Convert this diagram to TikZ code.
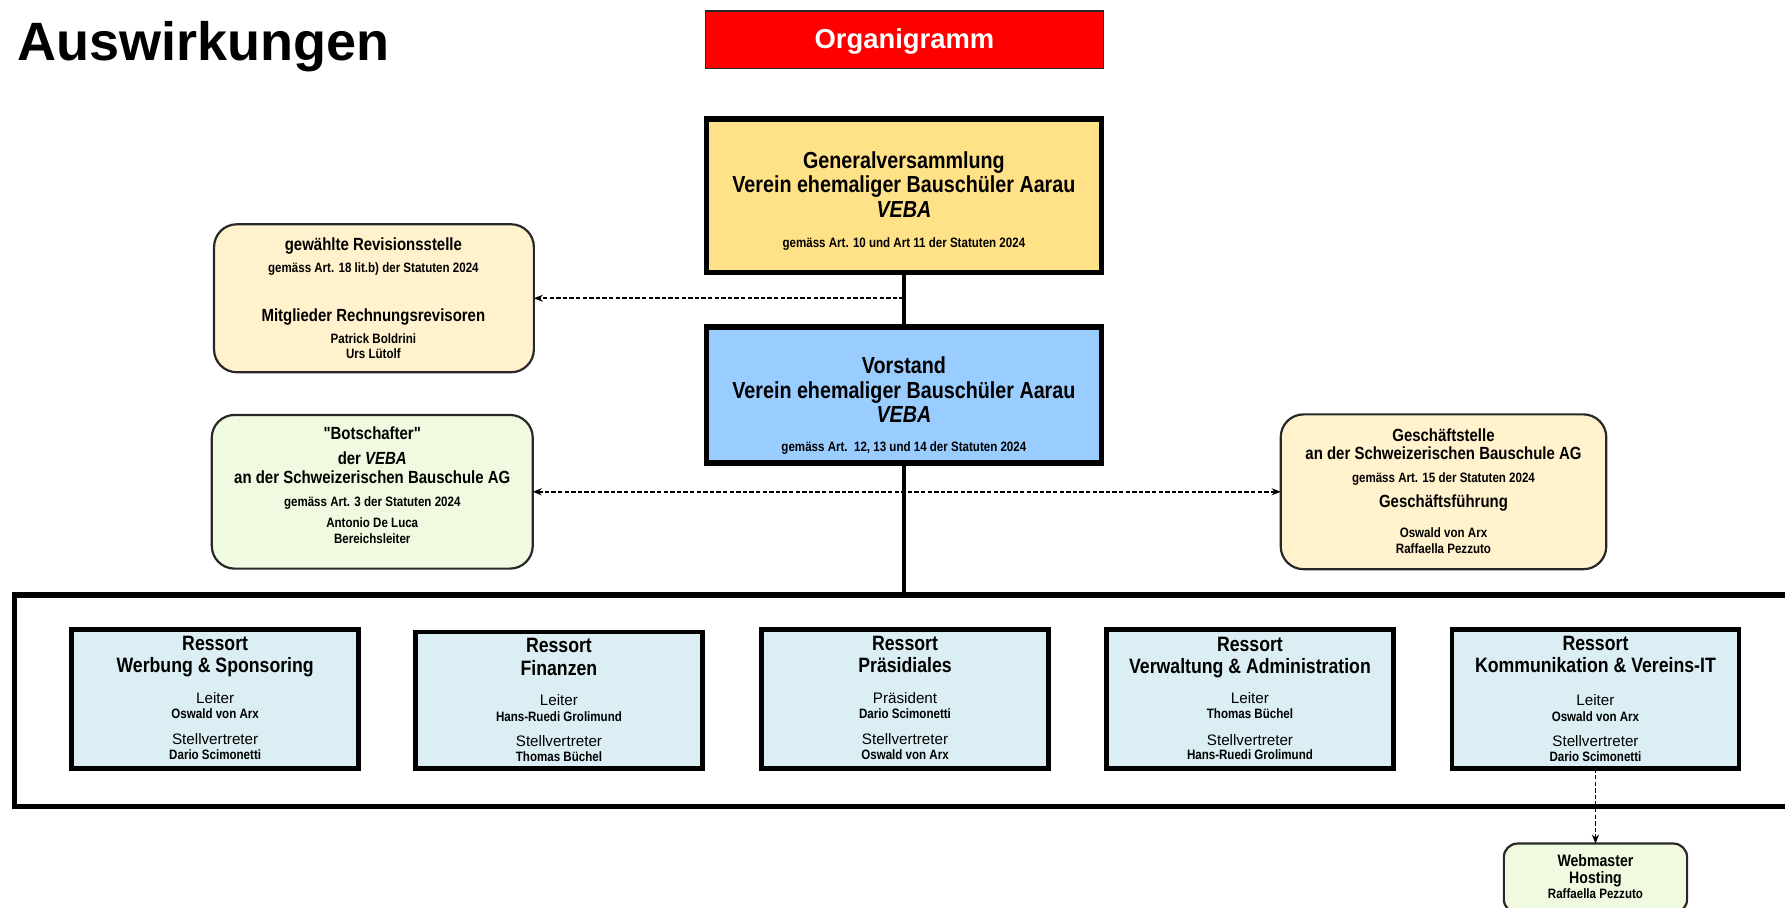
\documentclass[tikz,border=0pt]{standalone}
\usepackage{fontspec}
\setmainfont{Liberation Sans}
\newfontfamily\narrowfont{Liberation Sans}[FakeStretch=0.85]
\usetikzlibrary{arrows.meta}

\definecolor{orgred}{RGB}{255,0,0}
\definecolor{gvyellow}{RGB}{255,226,135}
\definecolor{vsblue}{RGB}{153,204,255}
\definecolor{paleyellow}{RGB}{255,242,204}
\definecolor{palegreen}{RGB}{240,250,224}
\definecolor{resblue}{RGB}{218,238,243}
\definecolor{edgegray}{RGB}{40,40,40}

\tikzset{
  txt/.style={anchor=base, inner sep=0pt, outer sep=0pt},
  ttl/.style={txt, font=\bfseries\fontsize{27}{30}\selectfont},
  orgtxt/.style={txt, text=white, font=\bfseries\fontsize{13.7}{15}\selectfont},
  big/.style={txt, font=\narrowfont\bfseries\fontsize{11.6}{13}\selectfont},
  small/.style={txt, font=\narrowfont\bfseries\fontsize{6.8}{8}\selectfont},
  mid/.style={txt, font=\narrowfont\bfseries\fontsize{8.8}{10}\selectfont},
  res/.style={txt, font=\narrowfont\bfseries\fontsize{10.4}{12}\selectfont},
  role/.style={txt, font=\fontsize{7.6}{9}\selectfont},
  web/.style={txt, font=\narrowfont\bfseries\fontsize{8.3}{10}\selectfont},
  orgbox/.style={draw=edgegray, fill=orgred, line width=0.85pt, inner sep=0pt, outer sep=0pt,
    minimum width=6.99cm, minimum height=1.01cm},
  mainbox/.style={draw=black, line width=0.1cm, inner sep=0pt, outer sep=0pt,
    minimum width=6.94cm},
  softbox/.style={draw=edgegray, line width=1.1pt, rounded corners=0.4cm, inner sep=0pt, outer sep=0pt},
  resbox/.style={draw=black, fill=resblue, line width=0.08cm, inner sep=0pt, outer sep=0pt,
    minimum width=5.04cm, minimum height=2.44cm},
  framebox/.style={draw=black, line width=0.1cm, inner sep=0pt, outer sep=0pt,
    minimum width=31.3cm, minimum height=3.72cm},
  solidline/.style={line width=1.7pt},
  dasharrow/.style={line width=0.8pt, dash pattern=on 2.2pt off 1.1pt,
    -{Stealth[length=4.5pt,width=3.5pt]}},
  dasharrows/.style={line width=0.8pt, dash pattern=on 2.2pt off 1.1pt,
    {Stealth[length=4.5pt,width=3.5pt]}-{Stealth[length=4.5pt,width=3.5pt]}}
}

\begin{document}
\begin{tikzpicture}[x=0.02cm, y=-0.02cm]
\useasboundingbox (0,0) rectangle (1568,797);
\clip (0,0) rectangle (1568,797);

% Title
\node[ttl, anchor=base west] (title) at (15,53) {Auswirkungen};

% Red header
\node[orgbox] (org) at (794.5,35) {};
\node[orgtxt] (orgt) at (794.5,43) {Organigramm};

% Frame round the Ressorts
\node[framebox] (frame) at (795,615.5) {};

% Generalversammlung
\node[mainbox, fill=gvyellow, minimum height=2.70cm] (gv) at (794,172) {};
\node[big] (gv1) at (794,148) {Generalversammlung};
\node[big] (gv2) at (794,169) {Verein ehemaliger Bauschüler Aarau};
\node[big] (gv3) at (794,191) {\itshape VEBA};
\node[small] (gv4) at (794,217) {gemäss Art. 10 und Art 11 der Statuten 2024};

% Vorstand
\node[mainbox, fill=vsblue, minimum height=2.38cm] (vor) at (794,347) {};
\node[big] (vor1) at (794,328) {Vorstand};
\node[big] (vor2) at (794,350) {Verein ehemaliger Bauschüler Aarau};
\node[big] (vor3) at (794,371) {\itshape VEBA};
\node[small] (vor4) at (794,397) {gemäss Art.\ \ 12, 13 und 14 der Statuten 2024};

% Revisionsstelle
\node[softbox, fill=paleyellow, minimum width=5.62cm, minimum height=2.60cm] (rev) at (328.5,262) {};
\node[mid] (rev1) at (328,220) {gewählte Revisionsstelle};
\node[small] (rev2) at (328,239) {gemäss Art. 18 lit.b) der Statuten 2024};
\node[mid] (rev3) at (328,282) {Mitglieder Rechnungsrevisoren};
\node[small] (rev4) at (328,302) {Patrick Boldrini};
\node[small] (rev5) at (328,315) {Urs Lütolf};

% Botschafter
\node[softbox, fill=palegreen, minimum width=5.64cm, minimum height=2.70cm] (bot) at (327,432) {};
\node[mid] (bot1) at (327,386) {\char34 Botschafter\char34};
\node[mid] (bot2) at (327,408) {der \textit{VEBA}};
\node[mid] (bot3) at (327,425) {an der Schweizerischen Bauschule AG};
\node[small] (bot4) at (327,445) {gemäss Art. 3 der Statuten 2024};
\node[small] (bot5) at (327,463) {Antonio De Luca};
\node[small] (bot6) at (327,477) {Bereichsleiter};

% Geschaeftsstelle
\node[softbox, fill=paleyellow, minimum width=5.72cm, minimum height=2.72cm] (gst) at (1268,432) {};
\node[mid] (gst1) at (1268,388) {Geschäftstelle};
\node[mid] (gst2) at (1268,404) {an der Schweizerischen Bauschule AG};
\node[small] (gst3) at (1268,424) {gemäss Art. 15 der Statuten 2024};
\node[mid] (gst4) at (1268,446) {Geschäftsführung};
\node[small] (gst5) at (1268,472) {Oswald von Arx};
\node[small] (gst6) at (1268,486) {Raffaella Pezzuto};

% Ressort Werbung & Sponsoring
\node[resbox] (res1) at (189,614) {};
\node[res] (res1a) at (189,571) {Ressort};
\node[res] (res1b) at (189,591) {Werbung \& Sponsoring};
\node[role] (res1c) at (189,618) {Leiter};
\node[small] (res1d) at (189,631) {Oswald von Arx};
\node[role] (res1e) at (189,654) {Stellvertreter};
\node[small] (res1f) at (189,667) {Dario Scimonetti};

% Ressort Finanzen
\node[resbox, minimum height=2.40cm] (res2) at (491,615) {};
\node[res] (res2a) at (491,573) {Ressort};
\node[res] (res2b) at (491,593) {Finanzen};
\node[role] (res2c) at (491,620) {Leiter};
\node[small] (res2d) at (491,634) {Hans-Ruedi Grolimund};
\node[role] (res2e) at (491,656) {Stellvertreter};
\node[small] (res2f) at (491,669) {Thomas Büchel};

% Ressort Praesidiales
\node[resbox] (res3) at (795,614) {};
\node[res] (res3a) at (795,571) {Ressort};
\node[res] (res3b) at (795,591) {Präsidiales};
\node[role] (res3c) at (795,618) {Präsident};
\node[small] (res3d) at (795,631) {Dario Scimonetti};
\node[role] (res3e) at (795,654) {Stellvertreter};
\node[small] (res3f) at (795,667) {Oswald von Arx};

% Ressort Verwaltung & Administration
\node[resbox, line width=0.1cm] (res4) at (1098,614) {};
\node[res] (res4a) at (1098,572) {Ressort};
\node[res] (res4b) at (1098,592) {Verwaltung \& Administration};
\node[role] (res4c) at (1098,618) {Leiter};
\node[small] (res4d) at (1098,631) {Thomas Büchel};
\node[role] (res4e) at (1098,655) {Stellvertreter};
\node[small] (res4f) at (1098,667) {Hans-Ruedi Grolimund};

% Ressort Kommunikation & Vereins-IT
\node[resbox] (res5) at (1401.5,614) {};
\node[res] (res5a) at (1401.5,571) {Ressort};
\node[res] (res5b) at (1401.5,591) {Kommunikation \& Vereins-IT};
\node[role] (res5c) at (1401.5,620) {Leiter};
\node[small] (res5d) at (1401.5,634) {Oswald von Arx};
\node[role] (res5e) at (1401.5,656) {Stellvertreter};
\node[small] (res5f) at (1401.5,669) {Dario Scimonetti};

% Webmaster
\node[softbox, fill=palegreen, rounded corners=0.24cm, minimum width=3.22cm, minimum height=1.22cm] (web) at (1401.5,771.5) {};
\node[web] (web1) at (1401.5,761) {Webmaster};
\node[web] (web2) at (1401.5,776) {Hosting};
\node[small] (web3) at (1401.5,789) {Raffaella Pezzuto};

% Connectors
\coordinate (jrev) at (794,262);
\draw[solidline] (gv.south) -- (vor.north);
\draw[dasharrow] (jrev) -- (rev.east);
\draw[solidline] (vor.south) -- (vor.south |- frame.north);
\draw[dasharrows] (bot.east) -- (gst.west);
\draw[dasharrow] (res5.south) -- (web.north);
\end{tikzpicture}
\end{document}
